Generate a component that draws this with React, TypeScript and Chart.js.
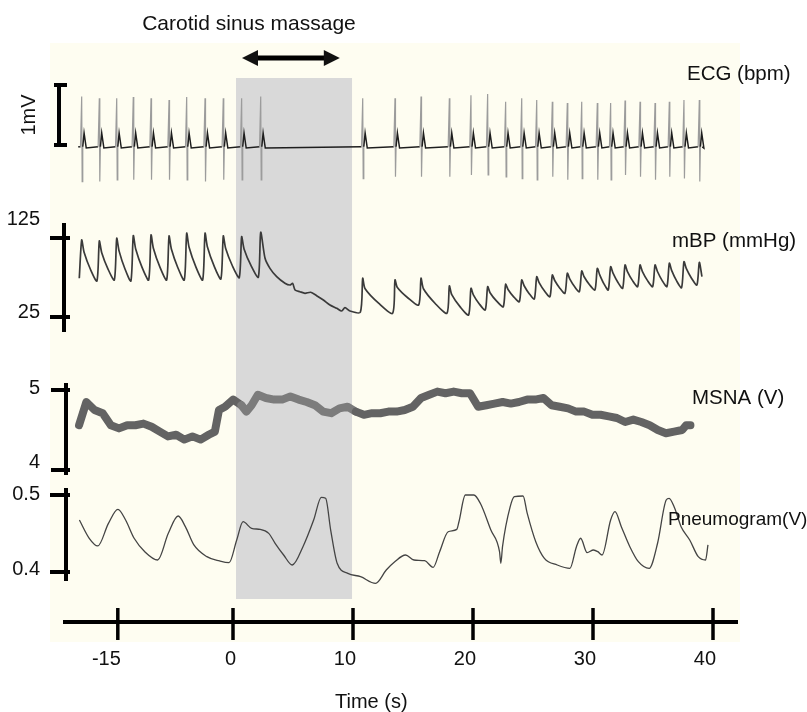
import React, { useEffect, useRef } from "react";
import { Chart, registerables } from "chart.js";

Chart.register(...registerables);

// ---------------- data ----------------
// time axis (seconds)
const TIME_TICK_POS = [-9.6, 0, 10, 20, 30, 40];
const TIME_TICK_LABELS = ["-15", "0", "10", "20", "30", "40"];
const MASSAGE_SPAN = [0.25, 9.92];
const ARROW_SPAN = [0.75, 8.9];

// heart beats (R-wave times, s)
const BEAT_TIMES = [
  -12.61, -11.14, -9.69, -8.31, -6.83, -5.33, -3.86, -2.33, -0.81, 0.72, 2.31,
  10.81, 13.5, 15.67, 18.03, 19.83, 21.22, 22.72, 24.06, 25.31, 26.61, 27.86,
  29.06, 30.36, 31.47, 32.67, 33.92, 35.17, 36.36, 37.58, 38.86,
];
// ECG (mV)
const ECG_R = [
  0.81, 0.78, 0.78, 0.8, 0.78, 0.75, 0.8, 0.78, 0.78, 0.78, 0.81, 0.78, 0.78,
  0.81, 0.78, 0.83, 0.85, 0.72, 0.78, 0.75, 0.72, 0.7, 0.72, 0.7, 0.7, 0.74,
  0.72, 0.7, 0.72, 0.75, 0.75,
];
const ECG_S = [
  -0.61, -0.61, -0.58, -0.58, -0.58, -0.58, -0.58, -0.61, -0.58, -0.58, -0.58,
  -0.56, -0.53, -0.53, -0.53, -0.5, -0.5, -0.53, -0.56, -0.58, -0.53, -0.58,
  -0.56, -0.58, -0.58, -0.5, -0.53, -0.58, -0.53, -0.56, -0.61,
];
const ECG_BASE = -0.03;
const ECG_T = 0.2;
const ECG_RANGE = [-12.9, 39.1];
const ECG_BAR = [0, 1];

// blood pressure (mmHg)
const BP_PEAK = [
  122.5, 121.2, 124.6, 127.9, 128.8, 127.5, 131, 131, 127.5, 126.6, 132.2, 74,
  71.8, 74, 64.2, 61.3, 63.4, 66.4, 71.8, 76, 78.2, 80.3, 83.2, 86.6, 88.7,
  90.8, 90.8, 90.8, 93, 95, 94.2,
];
const BP_FOOT = [
  74, 70.6, 71.8, 70.6, 71.8, 71.8, 71.8, 71.8, 73.1, 74.8, 75.3, 31, 29.7,
  40.2, 29.7, 27.5, 33.9, 38, 44.4, 47.8, 50.7, 55, 57, 59.2, 59.2, 61.3, 63.4,
  63.4, 63.4, 62, 65.5,
];
const BP_PAUSE_BEAT = 10;
const BP_PAUSE_T = [
  2.67, 3.08, 3.64, 4.33, 4.75, 4.97, 5.17, 5.58, 6.0, 6.47, 6.97, 7.53, 8.08,
  8.64, 9.06, 9.33, 9.75,
];
const BP_PAUSE_V = [
  99.3, 86.6, 76, 67.7, 65.5, 67.7, 59.2, 57, 55, 56.3, 52, 46.5, 40.2, 36,
  32.6, 36.8, 32.6,
];
const BP_END = [39.08, 76];
const BP_TICKS = [25, 125];

// MSNA (V)
const MSNA_T = [
  -12.83, -12.22, -11.54, -10.86, -10.18, -9.5, -8.82, -8.14, -7.46, -6.78,
  -6.1, -5.42, -4.74, -4.06, -3.38, -2.7, -2.02, -1.51, -1.17, -0.66, 0.02,
  0.7, 1.11, 1.55, 2.07, 2.74, 3.43, 4.1, 4.78, 5.47, 6.14, 6.83, 7.51, 8.18,
  8.87, 9.55, 10.23, 10.91, 11.58, 12.27, 12.95, 13.63, 14.31, 14.99, 15.67,
  16.35, 17.03, 17.71, 18.39, 19.07, 19.75, 20.43, 21.11, 21.79, 22.47, 23.15,
  23.83, 24.51, 25.19, 25.87, 26.55, 27.23, 27.92, 28.59, 29.27, 29.95, 30.63,
  31.32, 31.99, 32.68, 33.36, 34.03, 34.72, 35.4, 36.08, 36.76, 37.43, 37.77,
  38.12,
];
const MSNA_V = [
  4.56, 4.85, 4.75, 4.71, 4.56, 4.52, 4.56, 4.56, 4.58, 4.54, 4.48, 4.42, 4.44,
  4.38, 4.42, 4.38, 4.44, 4.48, 4.75, 4.79, 4.88, 4.81, 4.73, 4.81, 4.94, 4.9,
  4.88, 4.88, 4.92, 4.88, 4.85, 4.81, 4.73, 4.71, 4.77, 4.79, 4.73, 4.69, 4.71,
  4.71, 4.73, 4.73, 4.75, 4.79, 4.9, 4.94, 4.98, 4.96, 4.98, 4.96, 4.96, 4.79,
  4.81, 4.83, 4.85, 4.83, 4.85, 4.88, 4.88, 4.9, 4.81, 4.79, 4.77, 4.73, 4.73,
  4.69, 4.69, 4.67, 4.65, 4.6, 4.63, 4.6, 4.56, 4.5, 4.46, 4.48, 4.5, 4.56,
  4.56,
];
const MSNA_TICKS = [4, 5];

// Pneumogram (V)
const PNEUMO_T = [
  -12.8, -11.98, -11.27, -10.38, -9.59, -8.95, -8.24, -7.35, -6.28, -5.39,
  -4.57, -3.97, -3.26, -2.18, -1.12, -0.33, 0.31, 0.84, 1.55, 2.27, 2.98, 3.51,
  4.22, 4.94, 5.83, 6.72, 7.36, 7.72, 8.14, 8.68, 9.57, 10.63, 11.88, 12.77,
  13.48, 14.38, 15.08, 15.97, 16.68, 17.22, 17.93, 18.65, 18.83, 19.36, 20.07,
  20.61, 21.49, 22.21, 22.32, 22.46, 23.1, 23.45, 24.17, 24.52, 25.23, 25.95,
  27.02, 28.08, 28.62, 28.97, 29.51, 30.04, 30.4, 30.76, 31.47, 31.83, 32.36,
  33.07, 33.78, 34.68, 35.38, 36.1, 36.34, 36.81, 37.34, 38.06, 38.77, 39.38,
  39.58,
];
const PNEUMO_V = [
  0.4675, 0.4438, 0.4338, 0.4632, 0.4814, 0.4675, 0.4438, 0.4264, 0.4156,
  0.4502, 0.4727, 0.4589, 0.4351, 0.4199, 0.4143, 0.4121, 0.4416, 0.4653,
  0.4567, 0.4554, 0.4502, 0.4373, 0.4221, 0.4091, 0.4329, 0.4675, 0.497,
  0.4957, 0.4545, 0.4113, 0.3983, 0.3939, 0.3853, 0.4026, 0.4134, 0.4221,
  0.4156, 0.4147, 0.4061, 0.4264, 0.4523, 0.4554, 0.4653, 0.5, 0.5, 0.4892,
  0.4545, 0.4264, 0.4113, 0.4329, 0.4848, 0.4978, 0.4987, 0.4762, 0.4394,
  0.4178, 0.4091, 0.4048, 0.4329, 0.4438, 0.4251, 0.4286, 0.4264, 0.4221,
  0.4675, 0.4783, 0.4589, 0.4329, 0.4134, 0.4048, 0.4373, 0.4935, 0.4957,
  0.4827, 0.4589, 0.4416, 0.4199, 0.4156, 0.4351,
];
const PNEUMO_TICKS = [0.4, 0.5];

// ---------------- layout / style ----------------
const W = 807;
const H = 712;
const AREA = { left: 50, top: 43, right: 740, bottom: 642 };
const X_RANGE = { min: -15.25, max: 42.25 };
const FONT = '"Liberation Sans", Arial, Helvetica, sans-serif';
const CREAM = "#fefdf1";
const SHADE = "#d9d9d9";

// y scale limits so that value v0 lands on pixel p0 and v1 on p1
function span(v0: number, p0: number, v1: number, p1: number) {
  const k = (p0 - p1) / (v1 - v0);
  return { min: v0 - (AREA.bottom - p0) / k, max: v0 + (p0 - AREA.top) / k };
}

function buildEcg() {
  const pts: { x: number; y: number }[] = [{ x: ECG_RANGE[0], y: ECG_BASE }];
  BEAT_TIMES.forEach((t, i) => {
    pts.push(
      { x: t - 0.1, y: ECG_BASE },
      { x: t, y: ECG_R[i] },
      { x: t + 0.04, y: ECG_S[i] },
      { x: t + 0.09, y: ECG_BASE },
      { x: t + 0.2, y: ECG_T },
      { x: t + 0.38, y: ECG_BASE - 0.02 }
    );
  });
  pts.push({ x: ECG_RANGE[1], y: ECG_BASE });
  return pts;
}

function buildBp() {
  const pts: { x: number; y: number }[] = [];
  const n = BEAT_TIMES.length;
  BEAT_TIMES.forEach((t, i) => {
    pts.push({ x: t - 0.2, y: BP_FOOT[i] }, { x: t, y: BP_PEAK[i] });
    if (i === BP_PAUSE_BEAT) {
      BP_PAUSE_T.forEach((pt, j) => pts.push({ x: pt, y: BP_PAUSE_V[j] }));
    } else if (i < n - 1) {
      const amp = BP_PEAK[i] - BP_FOOT[i + 1];
      const tn = BEAT_TIMES[i + 1] - 0.2;
      pts.push({ x: t + 0.2, y: BP_PEAK[i] - 0.3 * amp });
      pts.push({ x: (t + 0.2 + tn) / 2, y: BP_FOOT[i + 1] + 0.28 * amp });
    } else {
      pts.push({ x: BP_END[0], y: BP_END[1] });
    }
  });
  return pts;
}

const zip = (ts: number[], vs: number[]) => ts.map((t, i) => ({ x: t, y: vs[i] }));

function text(
  ctx: CanvasRenderingContext2D,
  s: string,
  x: number,
  y: number,
  size: number,
  align: CanvasTextAlign = "left"
) {
  ctx.font = `${size}px ${FONT}`;
  ctx.fillStyle = "#111";
  ctx.textAlign = align;
  ctx.textBaseline = "alphabetic";
  ctx.fillText(s, x, y);
}

const figurePlugin = {
  id: "figure",
  beforeDatasetsDraw(chart: any) {
    const { ctx, chartArea: a, scales } = chart;
    ctx.save();
    ctx.fillStyle = CREAM;
    ctx.fillRect(a.left, a.top, a.right - a.left, a.bottom - a.top);
    const x0 = scales.x.getPixelForValue(MASSAGE_SPAN[0]);
    const x1 = scales.x.getPixelForValue(MASSAGE_SPAN[1]);
    ctx.fillStyle = SHADE;
    ctx.fillRect(x0, 78, x1 - x0, 599 - 78);
    ctx.restore();
  },
  afterDatasetsDraw(chart: any) {
    const { ctx, scales } = chart;
    const sx = scales.x;
    ctx.save();
    ctx.strokeStyle = "#000";
    ctx.fillStyle = "#000";
    ctx.lineCap = "butt";
    const line = (x1: number, y1: number, x2: number, y2: number, w: number) => {
      ctx.lineWidth = w;
      ctx.beginPath();
      ctx.moveTo(x1, y1);
      ctx.lineTo(x2, y2);
      ctx.stroke();
    };

    // ECG 1 mV bar
    const eTop = scales.yEcg.getPixelForValue(ECG_BAR[1]);
    const eBot = scales.yEcg.getPixelForValue(ECG_BAR[0]);
    line(59, eTop - 2, 59, eBot + 2, 4);
    line(54, eTop, 67, eTop, 4);
    line(54, eBot, 67, eBot, 4);
    ctx.save();
    ctx.translate(35, (eTop + eBot) / 2);
    ctx.rotate(-Math.PI / 2);
    text(ctx, "1mV", 0, 0, 20, "center");
    ctx.restore();

    // bracket axes
    const bracket = (
      sc: any,
      ticks: number[],
      x: number,
      x0: number,
      x1: number,
      extTop: number,
      extBot: number,
      labelDy: number[]
    ) => {
      const pHi = sc.getPixelForValue(ticks[1]);
      const pLo = sc.getPixelForValue(ticks[0]);
      line(x, pHi - extTop, x, pLo + extBot, 4);
      line(x0, pHi, x1, pHi, 4);
      line(x0, pLo, x1, pLo, 4);
      text(ctx, String(ticks[1]), 40, pHi + labelDy[1], 20, "right");
      text(ctx, String(ticks[0]), 40, pLo + labelDy[0], 20, "right");
    };
    bracket(scales.yBp, BP_TICKS, 64, 50, 70, 15, 15, [1, -13]);
    bracket(scales.yMsna, MSNA_TICKS, 66, 51, 70, 7, 5, [-2, 4]);
    bracket(scales.yPn, PNEUMO_TICKS, 66, 50, 70, 7, 9, [3, 5]);

    // time axis
    line(63, 622, 738, 622, 4);
    TIME_TICK_POS.forEach((v, i) => {
      const px = sx.getPixelForValue(v);
      line(px, 608, px, 640, 3.5);
      text(ctx, TIME_TICK_LABELS[i], px + 3, 665, 20, "right");
    });
    text(ctx, "Time (s)", 335, 708, 20);

    // double arrow
    const ax0 = sx.getPixelForValue(ARROW_SPAN[0]);
    const ax1 = sx.getPixelForValue(ARROW_SPAN[1]);
    const ay = 58;
    line(ax0 + 10, ay, ax1 - 10, ay, 5);
    ctx.beginPath();
    ctx.moveTo(ax0, ay);
    ctx.lineTo(ax0 + 16, ay - 8);
    ctx.lineTo(ax0 + 16, ay + 8);
    ctx.closePath();
    ctx.fill();
    ctx.beginPath();
    ctx.moveTo(ax1, ay);
    ctx.lineTo(ax1 - 16, ay - 8);
    ctx.lineTo(ax1 - 16, ay + 8);
    ctx.closePath();
    ctx.fill();

    // titles
    text(ctx, "Carotid sinus massage", 249, 30, 21, "center");
    text(ctx, "ECG (bpm)", 687, 80, 20.5);
    text(ctx, "mBP (mmHg)", 672, 247, 20.5);
    text(ctx, "MSNA (V)", 692, 404, 20.5);
    text(ctx, "Pneumogram(V)", 668, 525, 19);
    ctx.restore();
  },
};

export default function App() {
  const ref = useRef<HTMLCanvasElement | null>(null);
  useEffect(() => {
    const canvas = ref.current;
    if (!canvas) return;
    const inMassage = (x: number) => x >= MASSAGE_SPAN[0] && x <= MASSAGE_SPAN[1];
    const chart = new Chart(canvas, {
      type: "line",
      data: {
        datasets: [
          {
            data: buildEcg(),
            yAxisID: "yEcg",
            borderColor: "#1e1e1e",
            borderWidth: 1.4,
            pointRadius: 0,
            tension: 0,
            segment: {
              borderColor: (c: any) =>
                Math.max(Math.abs(c.p0.parsed.y), Math.abs(c.p1.parsed.y)) > 0.3
                  ? "#9c9c9c"
                  : "#1e1e1e",
              borderWidth: (c: any) =>
                Math.max(Math.abs(c.p0.parsed.y), Math.abs(c.p1.parsed.y)) > 0.3 ? 1.2 : 1.5,
            },
          },
          {
            data: buildBp(),
            yAxisID: "yBp",
            borderColor: "#3a3a3a",
            borderWidth: 1.7,
            pointRadius: 0,
            tension: 0.25,
          },
          {
            data: zip(MSNA_T, MSNA_V),
            yAxisID: "yMsna",
            borderColor: "#636363",
            borderWidth: 8,
            borderJoinStyle: "round",
            borderCapStyle: "round",
            pointRadius: 0,
            tension: 0,
            segment: {
              borderColor: (c: any) => (inMassage(c.p0.parsed.x) ? "#7c7c7c" : "#636363"),
            },
          },
          {
            data: zip(PNEUMO_T, PNEUMO_V),
            yAxisID: "yPn",
            borderColor: "#444",
            borderWidth: 1.3,
            pointRadius: 0,
            cubicInterpolationMode: "monotone",
          },
        ] as any,
      },
      options: {
        responsive: false,
        animation: false,
        devicePixelRatio: 1,
        events: [],
        layout: {
          padding: {
            left: AREA.left,
            top: AREA.top,
            right: W - AREA.right,
            bottom: H - AREA.bottom,
          },
        },
        plugins: { legend: { display: false }, tooltip: { enabled: false } },
        scales: {
          x: { type: "linear", min: X_RANGE.min, max: X_RANGE.max, display: false },
          yEcg: { type: "linear", display: false, ...span(0, 145, 1, 85) },
          yBp: { type: "linear", display: false, ...span(25, 317, 125, 238) },
          yMsna: { type: "linear", display: false, ...span(4, 470, 5, 390) },
          yPn: { type: "linear", display: false, ...span(0.4, 572, 0.5, 495) },
        },
      } as any,
      plugins: [figurePlugin],
    });
    return () => chart.destroy();
  }, []);

  return (
    <div
      style={{
        position: "absolute",
        left: 0,
        top: 0,
        width: W,
        height: H,
        overflow: "hidden",
        background: "#fff",
      }}
    >
      <canvas ref={ref} width={W} height={H} style={{ display: "block" }} />
    </div>
  );
}
